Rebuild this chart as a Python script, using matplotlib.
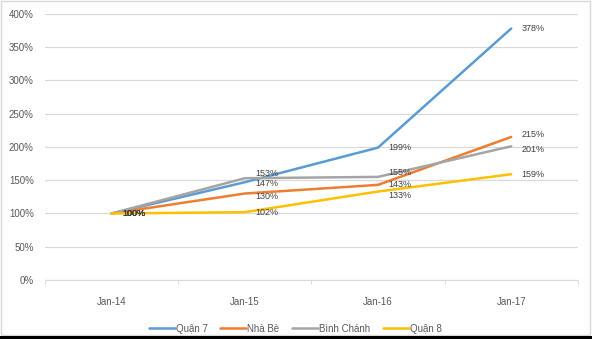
import matplotlib.pyplot as plt
from matplotlib.patches import Rectangle
from matplotlib.ticker import FuncFormatter, MultipleLocator

# Price index by district (Jan-14 = 100%)
periods = ['Jan-14', 'Jan-15', 'Jan-16', 'Jan-17']
quan7 = [100, 147, 199, 378]
nha_be = [100, 130, 143, 215]
binh_chanh = [100, 153, 155, 201]
quan8 = [100, 102, 133, 159]

series = [
    ('Quận 7', quan7, '#5B9BD5'),
    ('Nhà Bè', nha_be, '#ED7D31'),
    ('Bình Chánh', binh_chanh, '#A5A5A5'),
    ('Quận 8', quan8, '#FFC000'),
]

# small vertical nudges (points) so crowded labels stay readable
nudge = {
    ('Bình Chánh', 1): 3.5, ('Quận 7', 1): -1, ('Nhà Bè', 1): -2,
    ('Bình Chánh', 2): 3, ('Nhà Bè', 2): 0, ('Quận 8', 2): -3,
    ('Nhà Bè', 3): 2, ('Bình Chánh', 3): -2,
}

plt.rcParams['font.family'] = ['Liberation Sans', 'DejaVu Sans']
text_col = '#595959'

fig = plt.figure(figsize=(5.92, 3.39), dpi=100)
ax = fig.add_axes([0.076, 0.174, 0.900, 0.785])

x = list(range(len(periods)))
for name, vals, col in series:
    ax.plot(x, vals, color=col, lw=1.8, label=name, solid_capstyle='round')
    for xi, v in zip(x, vals):
        dy = nudge.get((name, xi), 0)
        ax.annotate(f'{v}%', (xi, v), xytext=(7.5, dy), textcoords='offset points',
                    va='center', ha='left', fontsize=6.5, color='#404040')

ax.set_xlim(-0.5, len(periods) - 0.5)
ax.set_ylim(0, 400)
ax.yaxis.set_major_locator(MultipleLocator(50))
ax.yaxis.set_major_formatter(FuncFormatter(lambda v, p: f'{v:.0f}%'))
ax.grid(axis='y', color='#D9D9D9', lw=0.9)
ax.set_axisbelow(True)

ax.set_xticks(x)
ax.set_xticklabels(periods)
ax.set_xticks([i - 0.5 for i in range(len(periods) + 1)], minor=True)
ax.tick_params(axis='x', which='major', length=0, pad=12, labelsize=7, labelcolor=text_col)
ax.tick_params(axis='x', which='minor', length=3, color='#D9D9D9')
ax.tick_params(axis='y', length=0, pad=8, labelsize=7, labelcolor=text_col)

for s in ['top', 'right', 'left']:
    ax.spines[s].set_visible(False)
ax.spines['bottom'].set_color('#D9D9D9')

ax.legend(loc='lower center', bbox_to_anchor=(0.47, -0.235), ncol=4, frameon=False,
          fontsize=7, labelcolor=text_col, handlelength=2.7, handletextpad=0.1,
          columnspacing=1.3)

# chart frame
fig.patches.append(Rectangle((0.002, 0.012), 0.994, 0.985, transform=fig.transFigure,
                             fill=False, ec='#D9D9D9', lw=1))
fig.patches.append(Rectangle((0, 0), 1, 0.008, transform=fig.transFigure,
                             fc='black', ec='none'))

fig.savefig('out.png', dpi=100)
